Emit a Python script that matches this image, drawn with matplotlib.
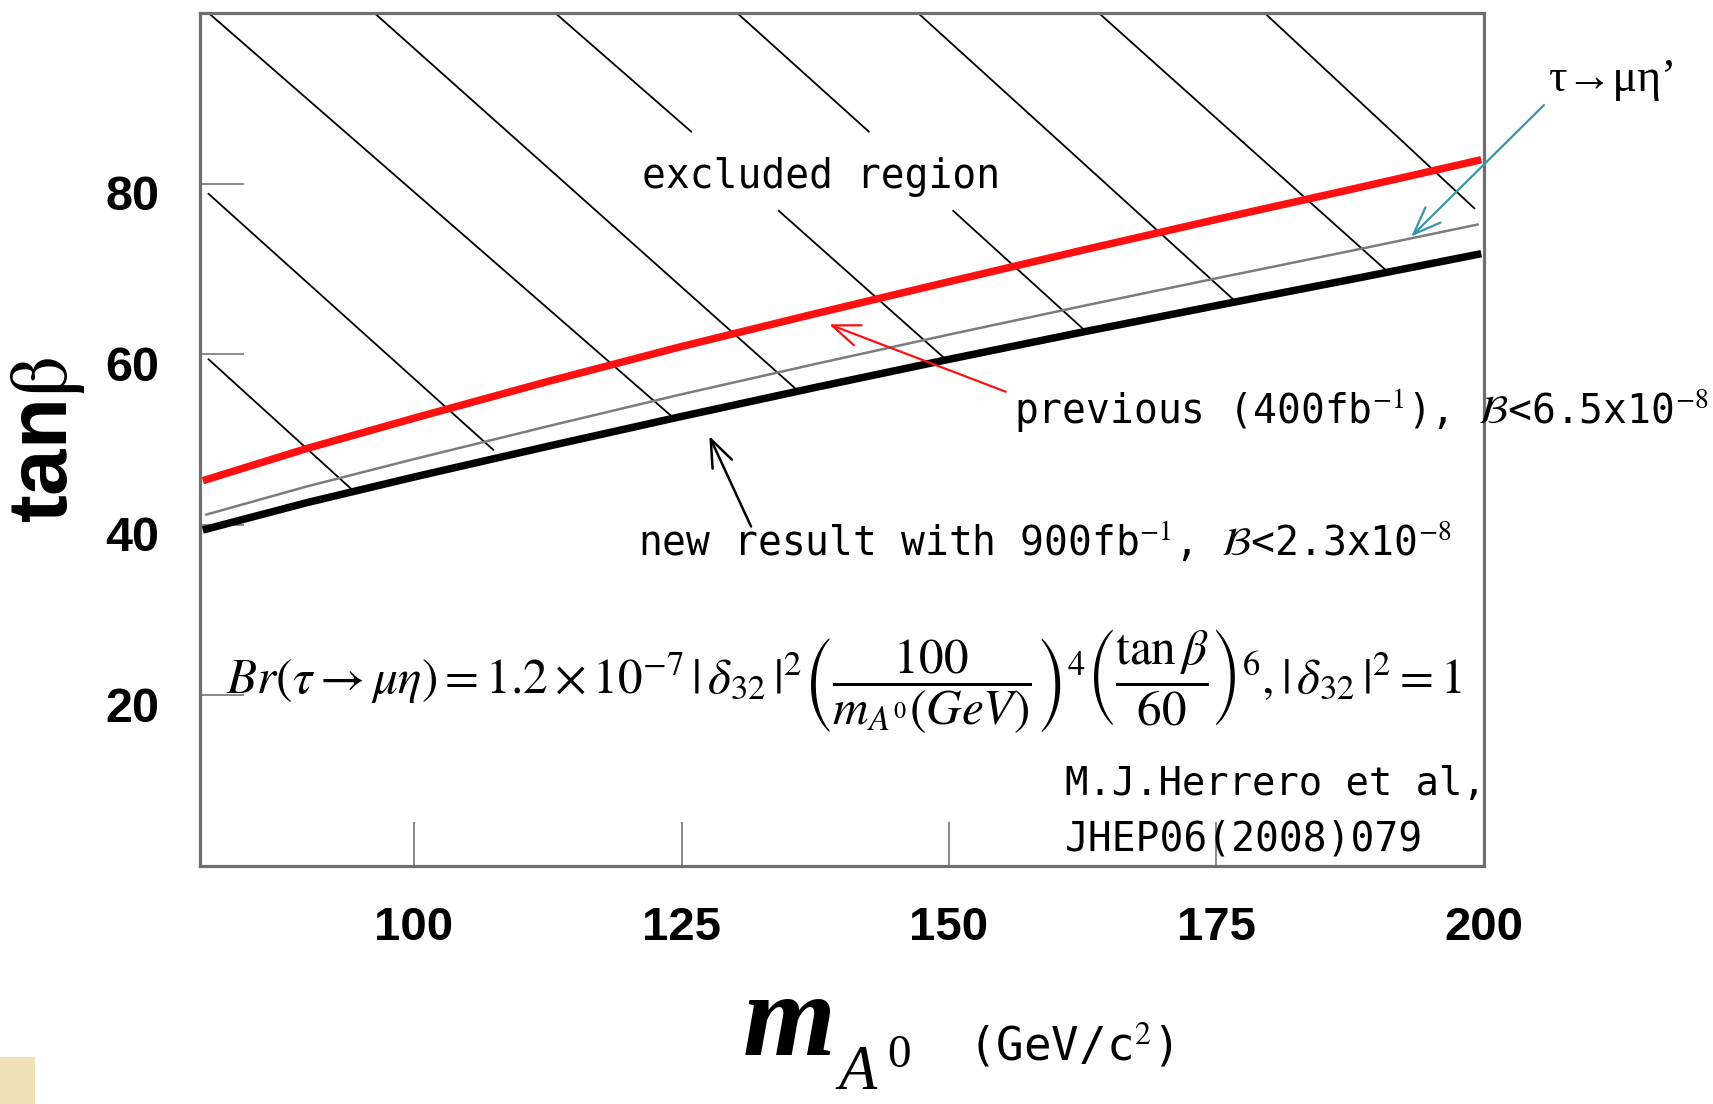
import matplotlib
matplotlib.use("Agg")
import matplotlib.pyplot as plt
import matplotlib.transforms as mtransforms
from matplotlib import font_manager as fm
from matplotlib.patches import Rectangle

# ---- values ----------------------------------------------------------------
m_A = [80.6, 90, 100, 112.5, 125, 137.5, 150, 162.5, 175, 187.5, 199.4]
tanb_previous = [45.3, 48.95, 52.5, 56.8, 60.9, 64.75, 68.5, 72.2, 75.8, 79.3, 82.7]  # red, 400 fb^-1
tanb_eta_prime = [41.2, 44.5, 47.7, 51.55, 55.3, 58.85, 62.3, 65.65, 68.9, 72.1, 75.2]  # grey, tau -> mu eta'
tanb_new = [39.5, 42.6, 45.6, 49.2, 52.7, 56.1, 59.4, 62.6, 65.7, 68.75, 71.7]  # black, 900 fb^-1

# hatching of the excluded region, one segment per entry: (x0, y0) -> (x1, y1)
hatch_x0 = [80.8, 96.3, 113.2, 134.1, 130.2, 150.4, 147.1, 164.0, 179.5, 80.8, 80.8]
hatch_y0 = [100, 100, 100, 76.8, 100, 76.8, 100, 100, 100, 78.8, 59.4]
hatch_x1 = [124.1, 135.8, 125.9, 149.6, 142.5, 162.5, 176.5, 190.7, 199.1, 107.4, 94.4]
hatch_y1 = [52.7, 55.8, 86.1, 59.5, 86.1, 63.0, 66.5, 70.0, 77.1, 48.8, 43.9]

x_ticks = [100, 125, 150, 175, 200]
y_ticks = [20, 40, 60, 80]

# arrow (tail -> head) in data units
arrow_eta_prime = ((205.6, 89.2), (193.2, 73.8))
arrow_previous = ((155.3, 55.6), (138.8, 63.5))
arrow_new = ((131.5, 39.8), (127.6, 50.4))

# ---- fonts -------------------------------------------------------------------
plt.rcParams["mathtext.fontset"] = "stix"
have = {f.name for f in fm.fontManager.ttflist}
NARROW = "Liberation Sans Narrow" if "Liberation Sans Narrow" in have else "Liberation Sans"
MONO = ["DejaVu Sans Mono", "DejaVu Sans"]
SERIF = ["Liberation Serif", "DejaVu Serif"]

W, H = 1713, 1104


def fx(px):
    return px / W


def fy(py):
    return 1 - py / H


fig = plt.figure(figsize=(W / 100, H / 100), dpi=100)
ax = fig.add_axes([fx(200), fy(866), (1484 - 200) / W, (866 - 13) / H])
ax.set_xlim(80, 200)
ax.set_ylim(0, 100)

for x0, y0, x1, y1 in zip(hatch_x0, hatch_y0, hatch_x1, hatch_y1):
    ax.plot([x0, x1], [y0, y1], color="black", lw=1.3, zorder=1)

ax.plot(m_A, tanb_previous, color="#ff1010", lw=5.4, zorder=3)
ax.plot(m_A, tanb_eta_prime, color="#7c7c7c", lw=1.8, zorder=3)
ax.plot(m_A, tanb_new, color="black", lw=5.4, zorder=3)

for s in ax.spines.values():
    s.set_color("#6f6f6f")
    s.set_linewidth(2.3)

ax.tick_params(direction="in", length=32, width=1.3, color="#808080")
ax.set_xticks(x_ticks)
ax.set_xticklabels([str(v) for v in x_ticks], fontfamily=NARROW, fontweight="bold",
                   fontsize=38 if NARROW.endswith("Narrow") else 34)
ax.set_yticks(y_ticks)
ax.set_yticklabels([str(v) for v in y_ticks], fontfamily="Liberation Sans",
                   fontweight="bold", fontsize=35)
ax.tick_params(axis="x", pad=29)
ax.tick_params(axis="y", pad=29)
shift = mtransforms.ScaledTranslation(0, -9 / 100, fig.dpi_scale_trans)
for lab in ax.get_yticklabels():
    lab.set_transform(lab.get_transform() + shift)

# arrows
arrow_style = "->,head_length=0.9,head_width=0.35"
for (tail, head), col, lw in [(arrow_eta_prime, "#3a94a8", 1.6),
                              (arrow_previous, "#ff1010", 1.6),
                              (arrow_new, "black", 1.8)]:
    ax.annotate("", xy=head, xytext=tail, annotation_clip=False,
                arrowprops=dict(arrowstyle=arrow_style, color=col, lw=lw,
                                mutation_scale=22, shrinkA=0, shrinkB=0))

# texts
fig.text(fx(642), fy(177), "excluded region", family=MONO, fontsize=28.5,
         ha="left", va="center")
fig.text(fx(1549), fy(80), "τ→μη’", family=SERIF, fontsize=33, ha="left", va="center")
fig.text(fx(1014), fy(410), r"previous (400fb$^{-1}$), $\mathcal{B}$<6.5x10$^{-8}$",
         family=MONO, fontsize=28.5, ha="left", va="center")
fig.text(fx(638), fy(542), r"new result with 900fb$^{-1}$, $\mathcal{B}$<2.3x10$^{-8}$",
         family=MONO, fontsize=28.5, ha="left", va="center")
fig.text(fx(226), fy(681),
         r"$Br(\tau\rightarrow\mu\eta)=1.2\times10^{-7}\,|\,\delta_{32}\,|^{2}"
         r"\left(\dfrac{100}{m_{A^{0}}(GeV)}\right)^{4}"
         r"\left(\dfrac{\tan\beta}{60}\right)^{6},|\,\delta_{32}\,|^{2}=1$",
         fontsize=35.5, ha="left", va="center")
fig.text(fx(1065), fy(784), "M.J.Herrero et al,", family=MONO, fontsize=28,
         ha="left", va="center")
fig.text(fx(1065), fy(839), "JHEP06(2008)079", family=MONO, fontsize=28.5,
         ha="left", va="center")

# axis titles
fig.text(fx(48), fy(440), r"tan$\mathrm{\beta}$", family="Liberation Sans",
         fontweight="bold", fontsize=60, rotation=90, ha="center", va="center")
fig.text(fx(743), fy(1055), "m", family=SERIF, style="italic", fontweight="bold",
         fontsize=86, ha="left", va="baseline")
fig.text(fx(838), fy(1089), "A", family=SERIF, style="italic", fontsize=45,
         ha="left", va="baseline")
fig.text(fx(887), fy(1067), "0", family=SERIF, fontsize=34, ha="left", va="baseline")
fig.text(fx(968), fy(1046), r"(GeV/c$^{2}$)", family=MONO, fontsize=33,
         ha="left", va="center")

# small beige patch left over in the slide corner
fig.add_artist(Rectangle((0, 0), fx(35), 47 / H, transform=fig.transFigure,
                         facecolor="#efe0b6", edgecolor="none"))

fig.savefig("out.png", dpi=100)
